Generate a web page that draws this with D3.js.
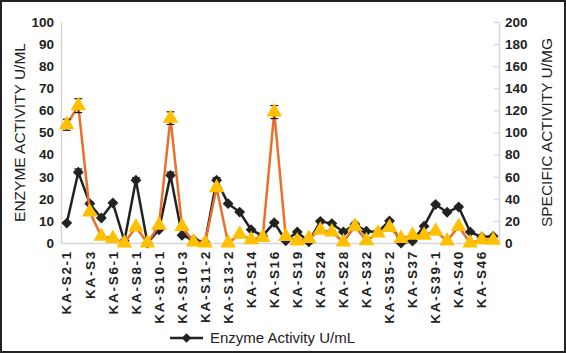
<!DOCTYPE html>
<html>
<head>
<meta charset="utf-8">
<script src="https://cdn.jsdelivr.net/npm/d3@7"></script>
<style>
  body { margin: 0; background: #fff; }
  text { font-family: "Liberation Sans", Arial, sans-serif; fill: #222; }
</style>
</head>
<body>
<div id="chart"></div>
<script>
var categories = ["KA-S2-1", "KA-S2-2", "KA-S3", "KA-S5", "KA-S6-1", "KA-S6-2", "KA-S8-1", "KA-S9",
  "KA-S10-1", "KA-S10-2", "KA-S10-3", "KA-S11-1", "KA-S11-2", "KA-S13-1", "KA-S13-2", "KA-S13-3",
  "KA-S14", "KA-S15", "KA-S16", "KA-S18", "KA-S19", "KA-S22", "KA-S24", "KA-S26", "KA-S28", "KA-S30",
  "KA-S32", "KA-S35-1", "KA-S35-2", "KA-S36", "KA-S37", "KA-S38", "KA-S39-1", "KA-S39-2", "KA-S40",
  "KA-S43", "KA-S46", "KA-S47"];

// enzyme activity U/mL (left axis)
var enzyme = [9, 32, 17.8, 11.3, 18.1, 0.9, 28.4, 0, 6, 30.6, 3.5, 1.5, 0.5, 28.4, 17.8, 14,
  6, 3.2, 9.2, 1, 5, 0.5, 9.8, 8.8, 5, 8.5, 5.3, 5, 10, 0, 0.9, 7.6, 17.4, 13.9, 16.3, 5, 2.7, 3];
var enzymeErr = [0.5, 1.5, 0.8, 0.5, 0.6, 0.2, 1.2, 0, 0.4, 1.5, 0.4, 0.2, 0.1, 1.2, 0.6, 0.5,
  0.4, 0.3, 0.6, 0.2, 0.3, 0.1, 0.6, 0.5, 0.3, 0.4, 0.3, 0.3, 0.5, 0, 0.2, 0.4, 0.6, 0.5, 0.6, 0.3, 0.2, 0.2];

// specific activity U/mg (right axis)
var specific = [107, 124.3, 28, 6, 4, 0, 14.5, 0, 16, 113, 15, 1, 0, 50, 0, 7.9,
  3, 5, 118.5, 5.8, 1.8, 4, 11.5, 10, 1, 15, 2, 9, 14, 4, 7, 7, 10.6, 1.8, 15, 0, 3, 2.5];
var specificErr = [5, 6.3, 1.5, 0.5, 0.4, 0, 1, 0, 1, 5.7, 1, 0.2, 0, 2, 0, 0.6,
  0.3, 0.4, 5.9, 0.5, 0.2, 0.3, 0.8, 0.7, 0.1, 1, 0.2, 0.6, 1, 0.3, 0.5, 0.5, 0.8, 0.2, 1, 0, 0.3, 0.2];

var leftTicks = [0, 10, 20, 30, 40, 50, 60, 70, 80, 90, 100];
var rightTicks = [0, 20, 40, 60, 80, 100, 120, 140, 160, 180, 200];

var width = 566, height = 354;
var margin = {top: 22, right: 67, bottom: 111, left: 61};

var svg = d3.select("#chart").append("svg")
    .attr("width", width)
    .attr("height", height);

// outer frame
svg.append("rect")
    .attr("x", 1).attr("y", 1)
    .attr("width", width - 2).attr("height", height - 3)
    .attr("fill", "none").attr("stroke", "#222").attr("stroke-width", 2);

var x = d3.scaleBand()
    .domain(categories)
    .range([margin.left, width - margin.right]);

var yL = d3.scaleLinear().domain([0, 100]).range([height - margin.bottom, margin.top]);
var yR = d3.scaleLinear().domain([0, 200]).range([height - margin.bottom, margin.top]);

function cx(d, i) { return x(categories[i]) + x.bandwidth() / 2; }

// axes
var gL = svg.append("g")
    .attr("transform", "translate(" + margin.left + ",0)")
    .call(d3.axisLeft(yL).tickValues(leftTicks).tickSize(0).tickPadding(7));
var gR = svg.append("g")
    .attr("transform", "translate(" + (width - margin.right) + ",0)")
    .call(d3.axisRight(yR).tickValues(rightTicks).tickSize(0).tickPadding(6));
var gX = svg.append("g")
    .attr("transform", "translate(0," + (height - margin.bottom) + ")")
    .call(d3.axisBottom(x).tickSize(0).tickFormat(function(d, i) { return i % 2 == 0 ? d : ""; }));

// small inward ticks on the right axis
gR.selectAll(".tick").append("line")
    .attr("x1", -5).attr("x2", 0)
    .attr("stroke", "#d0d0d0");

[gL, gR, gX].forEach(function(g) {
  g.select(".domain").attr("stroke", "#d6d6d6").attr("stroke-width", 1.5);
  g.selectAll("text")
      .style("font-size", "13.5px")
      .style("font-weight", "bold")
      .attr("fill", "#222");
});
gR.selectAll("text").attr("text-anchor", "start");

gX.selectAll("text")
    .attr("transform", "rotate(-90)")
    .attr("text-anchor", "end")
    .attr("x", -7)
    .attr("y", 0)
    .attr("dy", "0.35em")
    .style("letter-spacing", "1.7px");

// axis titles
svg.append("text")
    .attr("transform", "translate(25," + ((margin.top + height - margin.bottom) / 2) + ") rotate(-90)")
    .attr("text-anchor", "middle")
    .style("font-size", "15.5px")
    .text("ENZYME ACTIVITY U/ML");

svg.append("text")
    .attr("transform", "translate(552," + ((margin.top + height - margin.bottom) / 2) + ") rotate(-90)")
    .attr("text-anchor", "middle")
    .style("font-size", "15.5px")
    .text("SPECIFIC ACTIVITY U/MG");

// enzyme activity series
var lineL = d3.line().x(cx).y(function(d) { return yL(d); });
svg.append("path")
    .datum(enzyme)
    .attr("d", lineL)
    .attr("fill", "none")
    .attr("stroke", "#222")
    .attr("stroke-width", 2.5);

var errL = svg.append("g").selectAll("g")
    .data(enzyme)
    .enter().append("g")
    .attr("stroke", "#222").attr("stroke-width", 1.2);
errL.append("line")
    .attr("x1", cx).attr("x2", cx)
    .attr("y1", function(d, i) { return yL(d + enzymeErr[i]); })
    .attr("y2", function(d, i) { return yL(Math.max(0, d - enzymeErr[i])); });
errL.append("line")
    .attr("x1", function(d, i) { return cx(d, i) - 4; })
    .attr("x2", function(d, i) { return cx(d, i) + 4; })
    .attr("y1", function(d, i) { return yL(d + enzymeErr[i]); })
    .attr("y2", function(d, i) { return yL(d + enzymeErr[i]); });

svg.append("g").selectAll("path")
    .data(enzyme)
    .enter().append("path")
    .attr("d", d3.symbol().type(d3.symbolDiamond2).size(75))
    .attr("transform", function(d, i) { return "translate(" + cx(d, i) + "," + yL(d) + ")"; })
    .attr("fill", "#222");

// specific activity series
var lineR = d3.line().x(cx).y(function(d) { return yR(d); });
svg.append("path")
    .datum(specific)
    .attr("d", lineR)
    .attr("fill", "none")
    .attr("stroke", "#E8702A")
    .attr("stroke-width", 2.5);

var errR = svg.append("g").selectAll("g")
    .data(specific)
    .enter().append("g")
    .attr("stroke", "#222").attr("stroke-width", 1.2);
errR.append("line")
    .attr("x1", cx).attr("x2", cx)
    .attr("y1", function(d, i) { return yR(d + specificErr[i]); })
    .attr("y2", function(d, i) { return yR(Math.max(0, d - specificErr[i])); });
errR.selectAll(".cap")
    .data(function(d, i) { return [[d + specificErr[i], i], [Math.max(0, d - specificErr[i]), i]]; })
    .enter().append("line")
    .attr("x1", function(p) { return cx(0, p[1]) - 4; })
    .attr("x2", function(p) { return cx(0, p[1]) + 4; })
    .attr("y1", function(p) { return yR(p[0]); })
    .attr("y2", function(p) { return yR(p[0]); });

svg.append("g").selectAll("path")
    .data(specific)
    .enter().append("path")
    .attr("d", d3.symbol().type(d3.symbolTriangle).size(105))
    .attr("transform", function(d, i) { return "translate(" + cx(d, i) + "," + yR(d) + ")"; })
    .attr("fill", "#FFC000");

// legend
var lg = svg.append("g").attr("transform", "translate(170,338)");
lg.append("line").attr("x1", 0).attr("x2", 33).attr("stroke", "#222").attr("stroke-width", 2.5);
lg.append("path")
    .attr("d", d3.symbol().type(d3.symbolDiamond2).size(60))
    .attr("transform", "translate(16.5,0)")
    .attr("fill", "#222");
lg.append("text")
    .attr("x", 40).attr("dy", "0.35em")
    .style("font-size", "15px")
    .text("Enzyme Activity U/mL");
</script>
</body>
</html>
